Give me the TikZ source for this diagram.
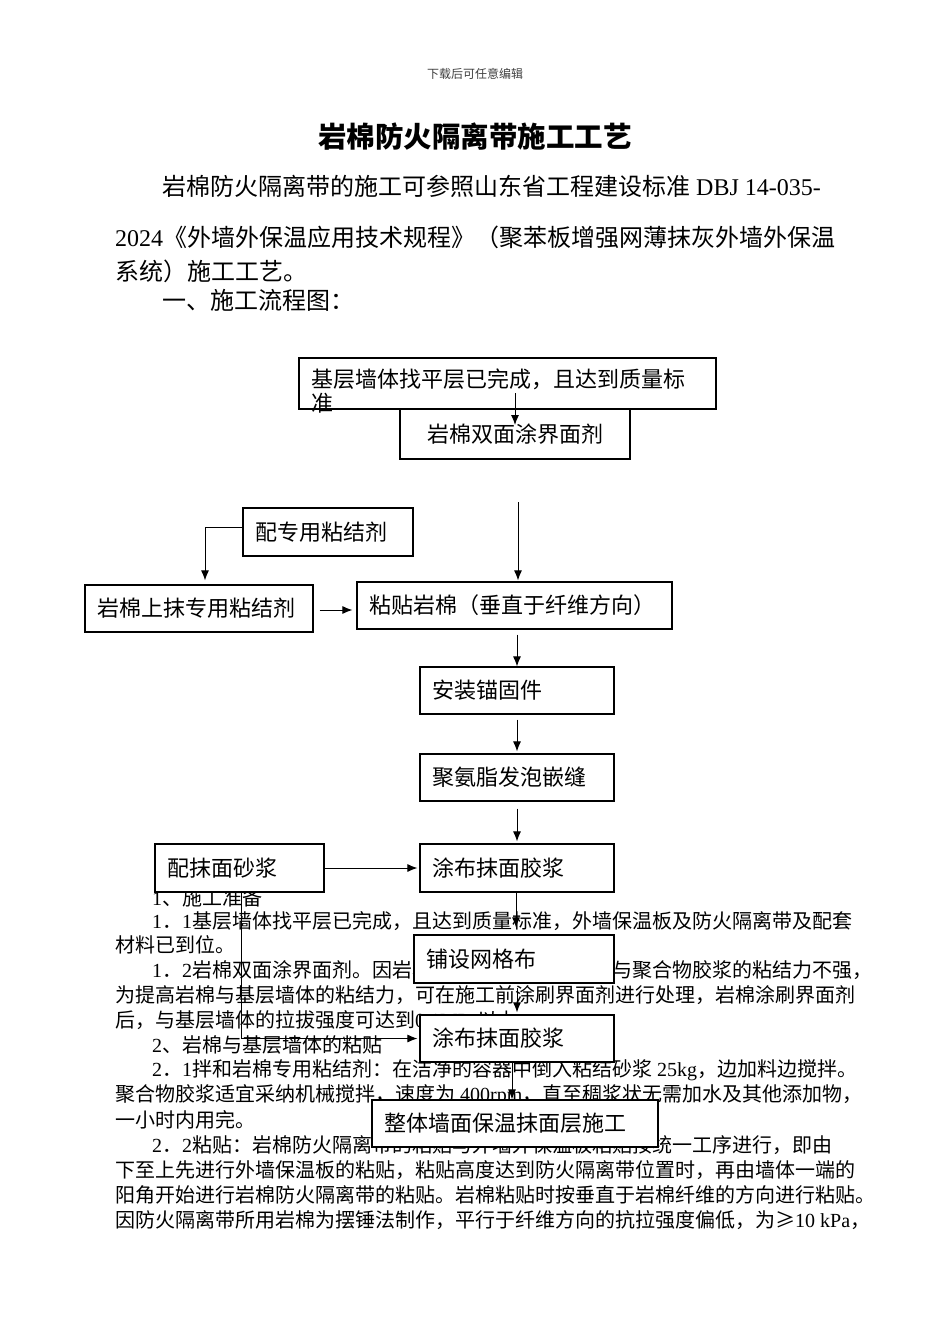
\documentclass[tikz,border=0pt]{standalone}
\usepackage{fontspec}
\setmainfont{Liberation Serif}
\newfontfamily\cjk{Noto Sans CJK SC}
\usetikzlibrary{arrows.meta}

\newcommand\latn[1]{{\rmfamily #1}}

\tikzset{
  intro/.style={font=\cjk\fontsize{24}{28}\selectfont, anchor=west, inner sep=0pt},
  body/.style={font=\cjk\fontsize{20}{24}\selectfont, anchor=west, inner sep=0pt},
  stepbox/.style={draw, fill=white, line width=1.2pt, inner xsep=12pt, inner ysep=0pt,
    align=left, font=\cjk\fontsize{22}{25}\selectfont},
  link/.style={line width=1pt, ->},
}

\begin{document}
\begin{tikzpicture}[x=1pt,y=-1pt,>={Latex[length=10pt,width=8pt]}]
  \useasboundingbox (0,0) rectangle (950,1344);
  \fill[white] (0,0) rectangle (950,1344);

  \node[font=\cjk\fontsize{12}{14}\selectfont, text=black!75] (header) at (475,74) {下载后可任意编辑};
  \node[font=\cjk\bfseries\fontsize{28.5}{32}\selectfont] (title) at (475,137) {岩棉防火隔离带施工工艺};

  \node[intro] (p1) at (162,186) {岩棉防火隔离带的施工可参照山东省工程建设标准\latn{ DBJ 14-035-}};
  \node[intro] (p2) at (115,237) {\latn{2024}《外墙外保温应用技术规程》（聚苯板增强网薄抹灰外墙外保温};
  \node[intro] (p3) at (115,271) {系统）施工工艺。};
  \node[intro] (p4) at (162,300) {一、施工流程图：};

  % text under the chart
  \node[body] (t0) at (152,898) {\latn{1}、施工准备};
  \node[body] (t1) at (152,921) {\latn{1}．\latn{1}基层墙体找平层已完成，且达到质量标准，外墙保温板及防火隔离带及配套};
  \node[body] (t2) at (115,945) {材料已到位。};
  \node[body] (t3) at (152,970) {\latn{1}．\latn{2}岩棉双面涂界面剂。因岩棉表面的憎水性较强，与聚合物胶浆的粘结力不强，};
  \node[body] (t4) at (115,995) {为提高岩棉与基层墙体的粘结力，可在施工前涂刷界面剂进行处理，岩棉涂刷界面剂};
  \node[body] (t5) at (115,1020) {后，与基层墙体的拉拔强度可达到\latn{0.1MPa}以上。};
  \node[body] (t6) at (152,1045) {\latn{2}、岩棉与基层墙体的粘贴};
  \node[body] (t7) at (152,1070) {\latn{2}．\latn{1}拌和岩棉专用粘结剂：在洁净的容器中倒入粘结砂浆\latn{ 25kg}，边加料边搅拌。};
  \node[body] (t8) at (115,1095) {聚合物胶浆适宜采纳机械搅拌，速度为\latn{ 400rpm}，直至稠浆状无需加水及其他添加物，};
  \node[body] (t9) at (115,1120) {一小时内用完。};
  \node[body] (t10) at (152,1145) {\latn{2}．\latn{2}粘贴：岩棉防火隔离带的粘贴与外墙外保温板粘贴按统一工序进行，即由};
  \node[body] (t11) at (115,1170) {下至上先进行外墙保温板的粘贴，粘贴高度达到防火隔离带位置时，再由墙体一端的};
  \node[body] (t12) at (115,1195) {阳角开始进行岩棉防火隔离带的粘贴。岩棉粘贴时按垂直于岩棉纤维的方向进行粘贴。};
  \node[body] (t13) at (115,1220) {因防火隔离带所用岩棉为摆锤法制作，平行于纤维方向的抗拉强度偏低，为≥\latn{10 kPa}，};

  % flow chart
  \node[stepbox, minimum width=417pt, minimum height=51pt] (jiceng) at (507.5,383.5) {};
  \node[font=\cjk\fontsize{22}{24}\selectfont, align=left, anchor=north west, inner sep=0pt]
    (jicengtext) at (311,369) {基层墙体找平层已完成，且达到质量标\\准};
  \node[stepbox, align=center, text width=206pt, minimum height=50pt] (jiemian) at (515,434) {岩棉双面涂界面剂};
  \node[stepbox, text width=146pt, minimum height=48pt] (peizhuan) at (328,532) {配专用粘结剂};
  \node[stepbox, text width=204pt, minimum height=47pt] (mozhuan) at (199,608.5) {岩棉上抹专用粘结剂};
  \node[stepbox, text width=291pt, minimum height=47pt] (zhantie) at (514.5,605.5) {粘贴岩棉（垂直于纤维方向）};
  \node[stepbox, text width=170pt, minimum height=47pt] (maogu) at (517,690.5) {安装锚固件};
  \node[stepbox, text width=170pt, minimum height=47pt] (fapao) at (517,777.5) {聚氨脂发泡嵌缝};
  \node[stepbox, text width=145pt, minimum height=48pt] (peimo) at (239.5,868) {配抹面砂浆};
  \node[stepbox, text width=170pt, minimum height=48pt] (tubu1) at (517,868) {涂布抹面胶浆};
  \node[stepbox, text width=176pt, minimum height=48pt] (wangge) at (514,959) {铺设网格布};
  \node[stepbox, text width=170pt, minimum height=47pt] (tubu2) at (517,1038.5) {涂布抹面胶浆};
  \node[stepbox, text width=262pt, minimum height=47pt] (zhengti) at (515,1123.5) {整体墙面保温抹面层施工};

  \coordinate (a1) at (515,393);
  \coordinate (a2) at (515,425);
  \coordinate (b1) at (518,502);

  \draw[link] (a1) -- (a2);
  \draw[link, shorten >=1pt] (b1) -- (b1 |- zhantie.north);
  \draw[link, shorten >=4pt] ([yshift=5pt]peizhuan.west) -| ([xshift=6pt]mozhuan.north);
  \draw[link, shorten <=6pt, shorten >=4pt] ([yshift=-1.5pt]mozhuan.east) -- ([yshift=-1.5pt]mozhuan.east -| zhantie.west);
  \draw[link, shorten <=5pt] (zhantie.south -| maogu.north) -- (maogu.north);
  \draw[link, shorten <=5pt, shorten >=2pt] (maogu.south) -- (fapao.north);
  \draw[link, shorten <=7pt, shorten >=2pt] (fapao.south) -- (tubu1.north);
  \draw[link, shorten >=2pt] (peimo.east) -- (tubu1.west);
  \draw[link, shorten >=7pt] ([xshift=-1pt]tubu1.south) -- ([xshift=-1pt]tubu1.south |- wangge.north);
  \draw[link, shorten <=4pt, shorten >=2pt] (wangge.south -| tubu2.north) -- (tubu2.north);
  \draw[link, shorten >=2pt] ([xshift=1.5pt]peimo.south) |- (tubu2.west);
  \draw[link] ([xshift=-5pt]tubu2.south) -- ([xshift=-5pt]tubu2.south |- zhengti.north);
\end{tikzpicture}
\end{document}
